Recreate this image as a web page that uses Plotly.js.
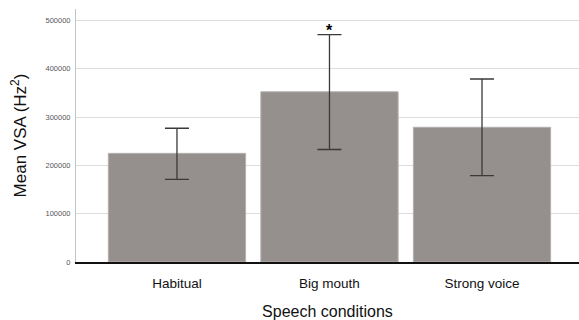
<!DOCTYPE html>
<html><head><meta charset="utf-8">
<script src="https://cdn.plot.ly/plotly-3.0.1.min.js"></script>
<style>html,body{margin:0;padding:0;background:#fff}#chart{width:579px;height:320px}</style>
</head><body><div id="chart"></div>
<script>
const categories = ["Habitual", "Big mouth", "Strong voice"];
const meanVSA = [225000, 352500, 279000];
const errUpper = [52000, 118500, 100000];
const errLower = [54000, 119500, 100000];
const yTicks = [0, 100000, 200000, 300000, 400000, 500000];
const sigMarks = ["", "*", ""];

const trace = {
  type: "bar",
  x: categories,
  y: meanVSA,
  marker: {color: "#958f8e", line: {color: "#b5b0af", width: 1}},
  error_y: {type: "data", symmetric: false, array: errUpper, arrayminus: errLower,
            color: "#3a3a3a", thickness: 1.3, width: 12},
  hoverinfo: "none"
};

const annotations = [];
categories.forEach((c, i) => {
  if (sigMarks[i]) annotations.push({
    x: c, y: meanVSA[i] + errUpper[i], xref: "x", yref: "y",
    text: "<b>" + sigMarks[i] + "</b>", showarrow: false, yanchor: "bottom", yshift: -6,
    font: {family: "Liberation Sans, Arial, sans-serif", size: 16, color: "#000"}
  });
});

const layout = {
  width: 579, height: 320,
  margin: {l: 76, r: 0, t: 9, b: 58, pad: 0},
  paper_bgcolor: "#fff", plot_bgcolor: "#fff",
  showlegend: false,
  bargap: 0.1,
  font: {family: "Liberation Sans, Arial, sans-serif", color: "#000"},
  xaxis: {
    range: [-0.662, 2.636], showgrid: false, zeroline: false,
    showline: true, linecolor: "#111", linewidth: 2,
    ticks: "", tickfont: {size: 13.5, color: "#111"}, ticklabelstandoff: 8,
    title: {text: "Speech conditions", font: {size: 16, color: "#111"}, standoff: 16},
    automargin: false
  },
  yaxis: {
    range: [0, 524000], tickvals: yTicks, ticktext: yTicks.map(String),
    showgrid: true, gridcolor: "#dedede", gridwidth: 1, zeroline: false,
    showline: true, linecolor: "#c4c4c4", linewidth: 1,
    ticks: "", ticklen: 0, tickfont: {size: 7.5, color: "#555"}, ticklabelstandoff: 3,
    title: {text: "Mean VSA (Hz<sup>2</sup>)", font: {size: 17, color: "#111"}, standoff: 14},
    automargin: false
  },
  annotations: annotations
};

Plotly.newPlot("chart", [trace], layout, {staticPlot: true, displayModeBar: false});
</script></body></html>
